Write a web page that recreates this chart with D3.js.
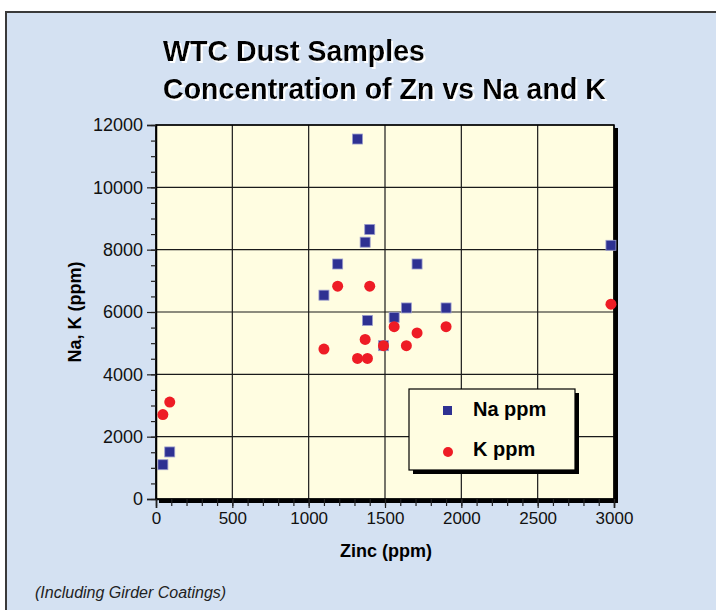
<!DOCTYPE html>
<html>
<head>
<meta charset="utf-8">
<script src="https://cdn.jsdelivr.net/npm/d3@7"></script>
<style>
  html, body { margin: 0; padding: 0; background: #fff; }
  svg { display: block; font-family: "Liberation Sans", Arial, sans-serif; }
</style>
</head>
<body>
<div id="chart"></div>
<script>
// zinc content of each dust sample and the matching Na / K values (ppm)
const zinc = [45, 90, 1100, 1190, 1320, 1370, 1385, 1400, 1490, 1560, 1640, 1710, 1900, 2980];
const naPpm = [1100, 1510, 6540, 7540, 11550, 8240, 5730, 8650, 4920, 5830, 6130, 7540, 6130, 8140];
const kPpm = [2710, 3110, 4810, 6830, 4510, 5120, 4510, 6830, 4920, 5530, 4920, 5330, 5530, 6250];

const seriesNames = ["Na ppm", "K ppm"];
const xTicks = [0, 500, 1000, 1500, 2000, 2500, 3000];
const yTicks = [0, 2000, 4000, 6000, 8000, 10000, 12000];

const config = {
  width: 716,
  height: 610,
  plot: { left: 156, right: 614, top: 125, bottom: 499 },
};
const narrow = "'Liberation Sans Narrow', 'Arial Narrow', 'Liberation Sans', Arial, sans-serif";

const svg = d3.select("#chart").append("svg")
  .attr("width", config.width)
  .attr("height", config.height);

// white drop shadow for the title
const defs = svg.append("defs");
defs.append("filter").attr("id", "whiteShadow")
  .attr("x", "-5%").attr("y", "-20%").attr("width", "110%").attr("height", "140%")
  .append("feDropShadow")
  .attr("dx", 2).attr("dy", 2).attr("stdDeviation", 0.4)
  .attr("flood-color", "#fff").attr("flood-opacity", 1);

// outer panel
svg.append("rect")
  .attr("x", 6).attr("y", 12)
  .attr("width", 720).attr("height", 610)
  .attr("fill", "#d4e1f2")
  .attr("stroke", "#3a3a3a")
  .attr("stroke-width", 2);

const titleLines = ["WTC Dust Samples", "Concentration of Zn vs Na and K"];
const titleWidths = [262, 443];
svg.append("g").attr("filter", "url(#whiteShadow)")
  .selectAll("text").data(titleLines).join("text")
  .attr("x", 163).attr("y", (d, i) => 61 + i * 38)
  .attr("font-family", narrow)
  .attr("font-size", 30).attr("font-weight", "bold")
  .attr("textLength", (d, i) => titleWidths[i])
  .attr("lengthAdjust", "spacingAndGlyphs")
  .attr("fill", "#000")
  .text(d => d);

const x = d3.scaleLinear().domain([0, 3000]).range([config.plot.left, config.plot.right]);
const y = d3.scaleLinear().domain([0, 12000]).range([config.plot.bottom, config.plot.top]);

const pw = config.plot.right - config.plot.left;
const ph = config.plot.bottom - config.plot.top;

// plot frame shadow + fill
svg.append("rect")
  .attr("x", config.plot.left + 3).attr("y", config.plot.top + 3)
  .attr("width", pw + 1).attr("height", ph + 1)
  .attr("fill", "#000");
svg.append("rect")
  .attr("x", config.plot.left).attr("y", config.plot.top)
  .attr("width", pw).attr("height", ph)
  .attr("fill", "#fffde1");

// grid
const grid = svg.append("g").attr("stroke", "#1a1a1a").attr("stroke-width", 1.2);
grid.selectAll(".gx").data(xTicks).join("line")
  .attr("x1", d => x(d)).attr("x2", d => x(d))
  .attr("y1", config.plot.top).attr("y2", config.plot.bottom);
grid.selectAll(".gy").data(yTicks).join("line")
  .attr("x1", config.plot.left).attr("x2", config.plot.right)
  .attr("y1", d => y(d)).attr("y2", d => y(d));

// frame border
svg.append("rect")
  .attr("x", config.plot.left).attr("y", config.plot.top)
  .attr("width", pw).attr("height", ph)
  .attr("fill", "none").attr("stroke", "#000").attr("stroke-width", 1.5);

// axes
const yAxis = svg.append("g")
  .attr("transform", `translate(${config.plot.left},0)`)
  .call(d3.axisLeft(y).tickValues(yTicks).tickSize(9).tickPadding(4).tickFormat(d3.format("d")));
svg.append("g")
  .attr("transform", `translate(${config.plot.left},0)`)
  .call(d3.axisLeft(y).tickValues(d3.range(0, 12001, 500)).tickSize(5).tickFormat(""))
  .call(g => g.select(".domain").remove());

const xAxis = svg.append("g")
  .attr("transform", `translate(0,${config.plot.bottom})`)
  .call(d3.axisBottom(x).tickValues(xTicks).tickSize(9).tickPadding(4).tickFormat(d3.format("d")));
svg.append("g")
  .attr("transform", `translate(0,${config.plot.bottom})`)
  .call(d3.axisBottom(x).tickValues(d3.range(0, 3001, 100)).tickSize(7).tickFormat(""))
  .call(g => g.select(".domain").remove());

svg.selectAll(".tick line").attr("stroke", "#222").attr("stroke-width", 1.2);
svg.selectAll(".domain").attr("stroke", "#000").attr("stroke-width", 1.5);
yAxis.selectAll("text").attr("font-size", 18).attr("fill", "#111").attr("font-family", "Liberation Sans, Arial");
xAxis.selectAll("text").attr("font-size", 17).attr("fill", "#111").attr("font-family", "Liberation Sans, Arial");

// axis titles
svg.append("text")
  .attr("x", 386).attr("y", 557)
  .attr("text-anchor", "middle")
  .attr("font-family", narrow)
  .attr("font-size", 18).attr("font-weight", "bold")
  .text("Zinc (ppm)");
svg.append("text")
  .attr("transform", "translate(81,312) rotate(-90)")
  .attr("text-anchor", "middle")
  .attr("font-family", narrow)
  .attr("font-size", 18).attr("font-weight", "bold")
  .text("Na, K (ppm)");

// footnote
svg.append("text")
  .attr("x", 35).attr("y", 598)
  .attr("font-family", narrow)
  .attr("font-size", 16).attr("font-style", "italic")
  .attr("fill", "#222")
  .text("(Including Girder Coatings)");

// data
const rows = zinc.map((z, i) => ({ zinc: z, na: naPpm[i], k: kPpm[i] }));
const sq = 10;

svg.append("g").selectAll("rect")
  .data(rows)
  .join("rect")
  .attr("x", d => x(d.zinc) - sq / 2)
  .attr("y", d => y(d.na) - sq / 2)
  .attr("width", sq).attr("height", sq)
  .attr("fill", "#2e3192")
  .attr("stroke", "#9a9ccc").attr("stroke-width", 0.8);

svg.append("g").selectAll("circle")
  .data(rows)
  .join("circle")
  .attr("cx", d => x(d.zinc))
  .attr("cy", d => y(d.k))
  .attr("r", 5.5)
  .attr("fill", "#ee1c25");

// legend
const lg = svg.append("g").attr("transform", "translate(409,389)");
lg.append("rect").attr("x", 4).attr("y", 4).attr("width", 166).attr("height", 81).attr("fill", "#000");
lg.append("rect").attr("width", 166).attr("height", 81)
  .attr("fill", "#fffde1").attr("stroke", "#000").attr("stroke-width", 1.2);
lg.append("rect").attr("x", 34).attr("y", 17).attr("width", 9).attr("height", 9)
  .attr("fill", "#2e3192");
lg.append("circle").attr("cx", 39).attr("cy", 63).attr("r", 5).attr("fill", "#ee1c25");
lg.selectAll(".lt").data(seriesNames).join("text")
  .attr("x", 64).attr("y", (d, i) => 27 + i * 40)
  .attr("font-family", narrow)
  .attr("font-size", 20).attr("font-weight", "bold")
  .text(d => d);
</script>
</body>
</html>
